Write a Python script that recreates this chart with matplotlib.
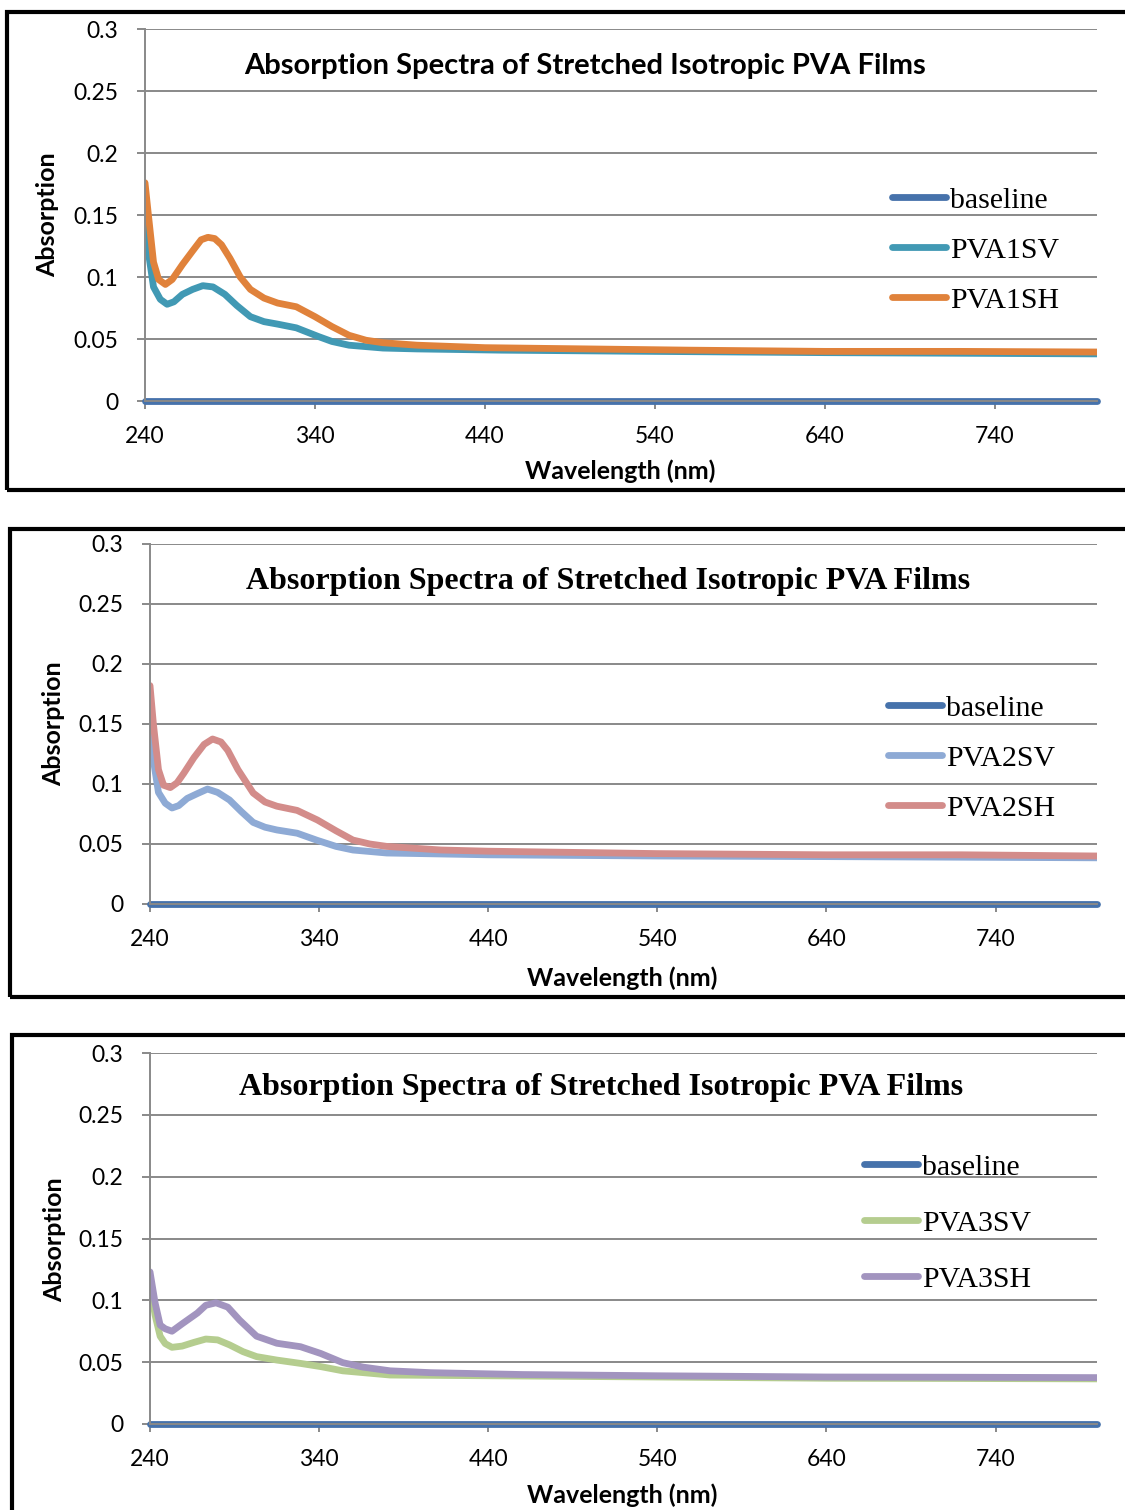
import matplotlib
matplotlib.use('Agg')
import matplotlib.pyplot as plt
from matplotlib.patches import Rectangle

# --- DATA ---

ytick_vals = [0, 0.05, 0.1, 0.15, 0.2, 0.25, 0.3]
ytick_labels = ['0', '0.05', '0.1', '0.15', '0.2', '0.25', '0.3']
xtick_vals = [240, 340, 440, 540, 640, 740]
xtick_labels = ['240', '340', '440', '540', '640', '740']

wl_base = [240, 400, 560, 720, 800]
abs_base = [0.0, 0.0, 0.0, 0.0, 0.0]

# panel 1
wl_1sv = [240, 242, 245, 249, 253, 257, 262, 268, 274, 280, 287, 294, 302, 310, 318, 329, 342, 350, 360, 380, 400, 450, 540, 640, 720, 800]
abs_1sv = [0.148, 0.120, 0.092, 0.082, 0.078, 0.080, 0.086, 0.090, 0.093, 0.092, 0.086, 0.077, 0.068, 0.064, 0.062, 0.059, 0.052, 0.048, 0.045, 0.0427, 0.042, 0.041, 0.040, 0.039, 0.0385, 0.038]
wl_1sh = [240, 242, 245, 248, 252, 256, 262, 268, 273, 277, 281, 285, 290, 296, 302, 310, 318, 329, 340, 350, 360, 370, 380, 400, 440, 500, 560, 640, 720, 800]
abs_1sh = [0.176, 0.150, 0.112, 0.098, 0.094, 0.098, 0.110, 0.121, 0.130, 0.132, 0.131, 0.126, 0.115, 0.100, 0.090, 0.083, 0.079, 0.076, 0.068, 0.060, 0.053, 0.049, 0.047, 0.045, 0.043, 0.042, 0.041, 0.040, 0.040, 0.0395]

# panel 2
wl_2sv = [240, 242, 245, 249, 253, 257, 262, 268, 274, 280, 287, 294, 301, 308, 315, 327, 339, 350, 360, 380, 440, 540, 640, 720, 800]
abs_2sv = [0.151, 0.120, 0.093, 0.084, 0.080, 0.082, 0.088, 0.092, 0.0958, 0.093, 0.0867, 0.077, 0.068, 0.064, 0.0617, 0.059, 0.053, 0.048, 0.045, 0.0425, 0.041, 0.040, 0.0395, 0.039, 0.0385]
wl_2sh = [240, 242, 245, 248, 252, 256, 260, 266, 272, 277, 282, 286, 292, 301, 308, 315, 327, 339, 350, 360, 370, 380, 412, 440, 540, 640, 720, 800]
abs_2sh = [0.182, 0.150, 0.112, 0.099, 0.097, 0.101, 0.109, 0.122, 0.133, 0.1375, 0.135, 0.128, 0.112, 0.0925, 0.085, 0.0815, 0.078, 0.070, 0.061, 0.0533, 0.050, 0.048, 0.045, 0.044, 0.042, 0.041, 0.041, 0.040]

# panel 3
wl_3sv = [240, 243, 246, 249, 253, 259, 266, 273, 280, 287, 295, 303, 315, 329, 341, 354, 382, 440, 540, 640, 720, 800]
abs_3sv = [0.114, 0.088, 0.071, 0.065, 0.062, 0.063, 0.066, 0.0687, 0.068, 0.064, 0.0585, 0.0545, 0.0517, 0.049, 0.0464, 0.043, 0.0396, 0.039, 0.038, 0.037, 0.0368, 0.0365]
wl_3sh = [240, 243, 246, 249, 253, 259, 268, 273, 279, 286, 293, 303, 315, 329, 341, 354, 366, 382, 406, 460, 540, 640, 720, 800]
abs_3sh = [0.123, 0.098, 0.080, 0.077, 0.075, 0.081, 0.0897, 0.096, 0.098, 0.0945, 0.084, 0.071, 0.0653, 0.0625, 0.057, 0.0496, 0.046, 0.043, 0.0415, 0.040, 0.039, 0.038, 0.0378, 0.0375]

title = 'Absorption Spectra of Stretched Isotropic PVA Films'

# --- STYLE ---

W, H = 1125, 1510
SANS = ['Lato', 'DejaVu Sans']
SERIF = ['Liberation Serif', 'DejaVu Serif']
GRID = '#898989'
BASE_C = '#4672ab'
LW = 4.9

def fx(x):
    return x / W

def fy(y):
    return 1 - y / H

fig = plt.figure(figsize=(W / 100, H / 100), dpi=100)

panels = [
    dict(box=(7, 12, 490), ax=(145, 29, 1097, 401), title_xy=(585, 66), title_font=SANS, title_size=21,
         ylab=(48, 215), xlab=(620, 471), leg=(892, 187), lsp=0.77,
         series=[(wl_1sv, abs_1sv, 'PVA1SV', '#4199b4'), (wl_1sh, abs_1sh, 'PVA1SH', '#e0823b')]),
    dict(box=(10, 529, 997), ax=(150, 544, 1097, 904), title_xy=(608, 581), title_font=SERIF, title_size=23,
         ylab=(54, 724), xlab=(622, 978), leg=(888, 695), lsp=0.77,
         series=[(wl_2sv, abs_2sv, 'PVA2SV', '#8eaad5'), (wl_2sh, abs_2sh, 'PVA2SH', '#d38c8a')]),
    dict(box=(12, 1035, 1560), ax=(150, 1053, 1097, 1424), title_xy=(601, 1088), title_font=SERIF, title_size=23,
         ylab=(55, 1240), xlab=(622, 1495), leg=(864, 1154), lsp=0.97,
         series=[(wl_3sv, abs_3sv, 'PVA3SV', '#b5cd8f'), (wl_3sh, abs_3sh, 'PVA3SH', '#a294bf')]),
]

for p in panels:
    bx, btop, bbot = p['box']
    fig.add_artist(Rectangle((fx(bx), fy(bbot)), fx(1200 - bx), (bbot - btop) / H,
                             transform=fig.transFigure, fill=False, edgecolor='black', linewidth=3.0))

    l, t, r, b = p['ax']
    ax = fig.add_axes([fx(l), fy(b), fx(r - l), (b - t) / H])
    ax.set_xlim(240, 800)
    ax.set_ylim(0, 0.3)
    for s in ['top', 'right']:
        ax.spines[s].set_visible(False)
    for s in ['left', 'bottom']:
        ax.spines[s].set_color(GRID)
        ax.spines[s].set_linewidth(1.4)
    ax.set_yticks(ytick_vals)
    ax.set_yticklabels(ytick_labels)
    ax.set_xticks(xtick_vals)
    ax.set_xticklabels(xtick_labels)
    ax.tick_params(axis='y', length=6, width=1.4, color=GRID, pad=13, labelsize=16.5)
    ax.tick_params(axis='x', length=6, width=1.4, color=GRID, pad=12, labelsize=16.5)
    for lab in ax.get_xticklabels() + ax.get_yticklabels():
        lab.set_family(SANS)
    ax.yaxis.grid(True, color=GRID, linewidth=1.4)
    ax.set_axisbelow(True)

    ax.plot(wl_base, abs_base, color=BASE_C, lw=LW, label='baseline', solid_capstyle='round', clip_on=False)
    for wl, ab, name, c in p['series']:
        ax.plot(wl, ab, color=c, lw=LW, label=name, solid_joinstyle='round', solid_capstyle='round')

    leg = ax.legend(loc='upper left', bbox_to_anchor=(fx(p['leg'][0]), fy(p['leg'][1])),
                    bbox_transform=fig.transFigure, frameon=False, borderpad=0, borderaxespad=0,
                    handlelength=1.8, handletextpad=0.15, labelspacing=p['lsp'],
                    prop={'family': SERIF, 'size': 21.5})

    fig.text(fx(p['title_xy'][0]), fy(p['title_xy'][1]), title, ha='center', va='center',
             fontsize=p['title_size'], fontweight='bold', family=p['title_font'])
    fig.text(fx(p['ylab'][0]), fy(p['ylab'][1]), 'Absorption', rotation=90, ha='center', va='center',
             fontsize=18, fontweight='bold', family=SANS)
    fig.text(fx(p['xlab'][0]), fy(p['xlab'][1]), 'Wavelength (nm)', ha='center', va='center',
             fontsize=18, fontweight='bold', family=SANS)

fig.savefig('out.png', dpi=100)
